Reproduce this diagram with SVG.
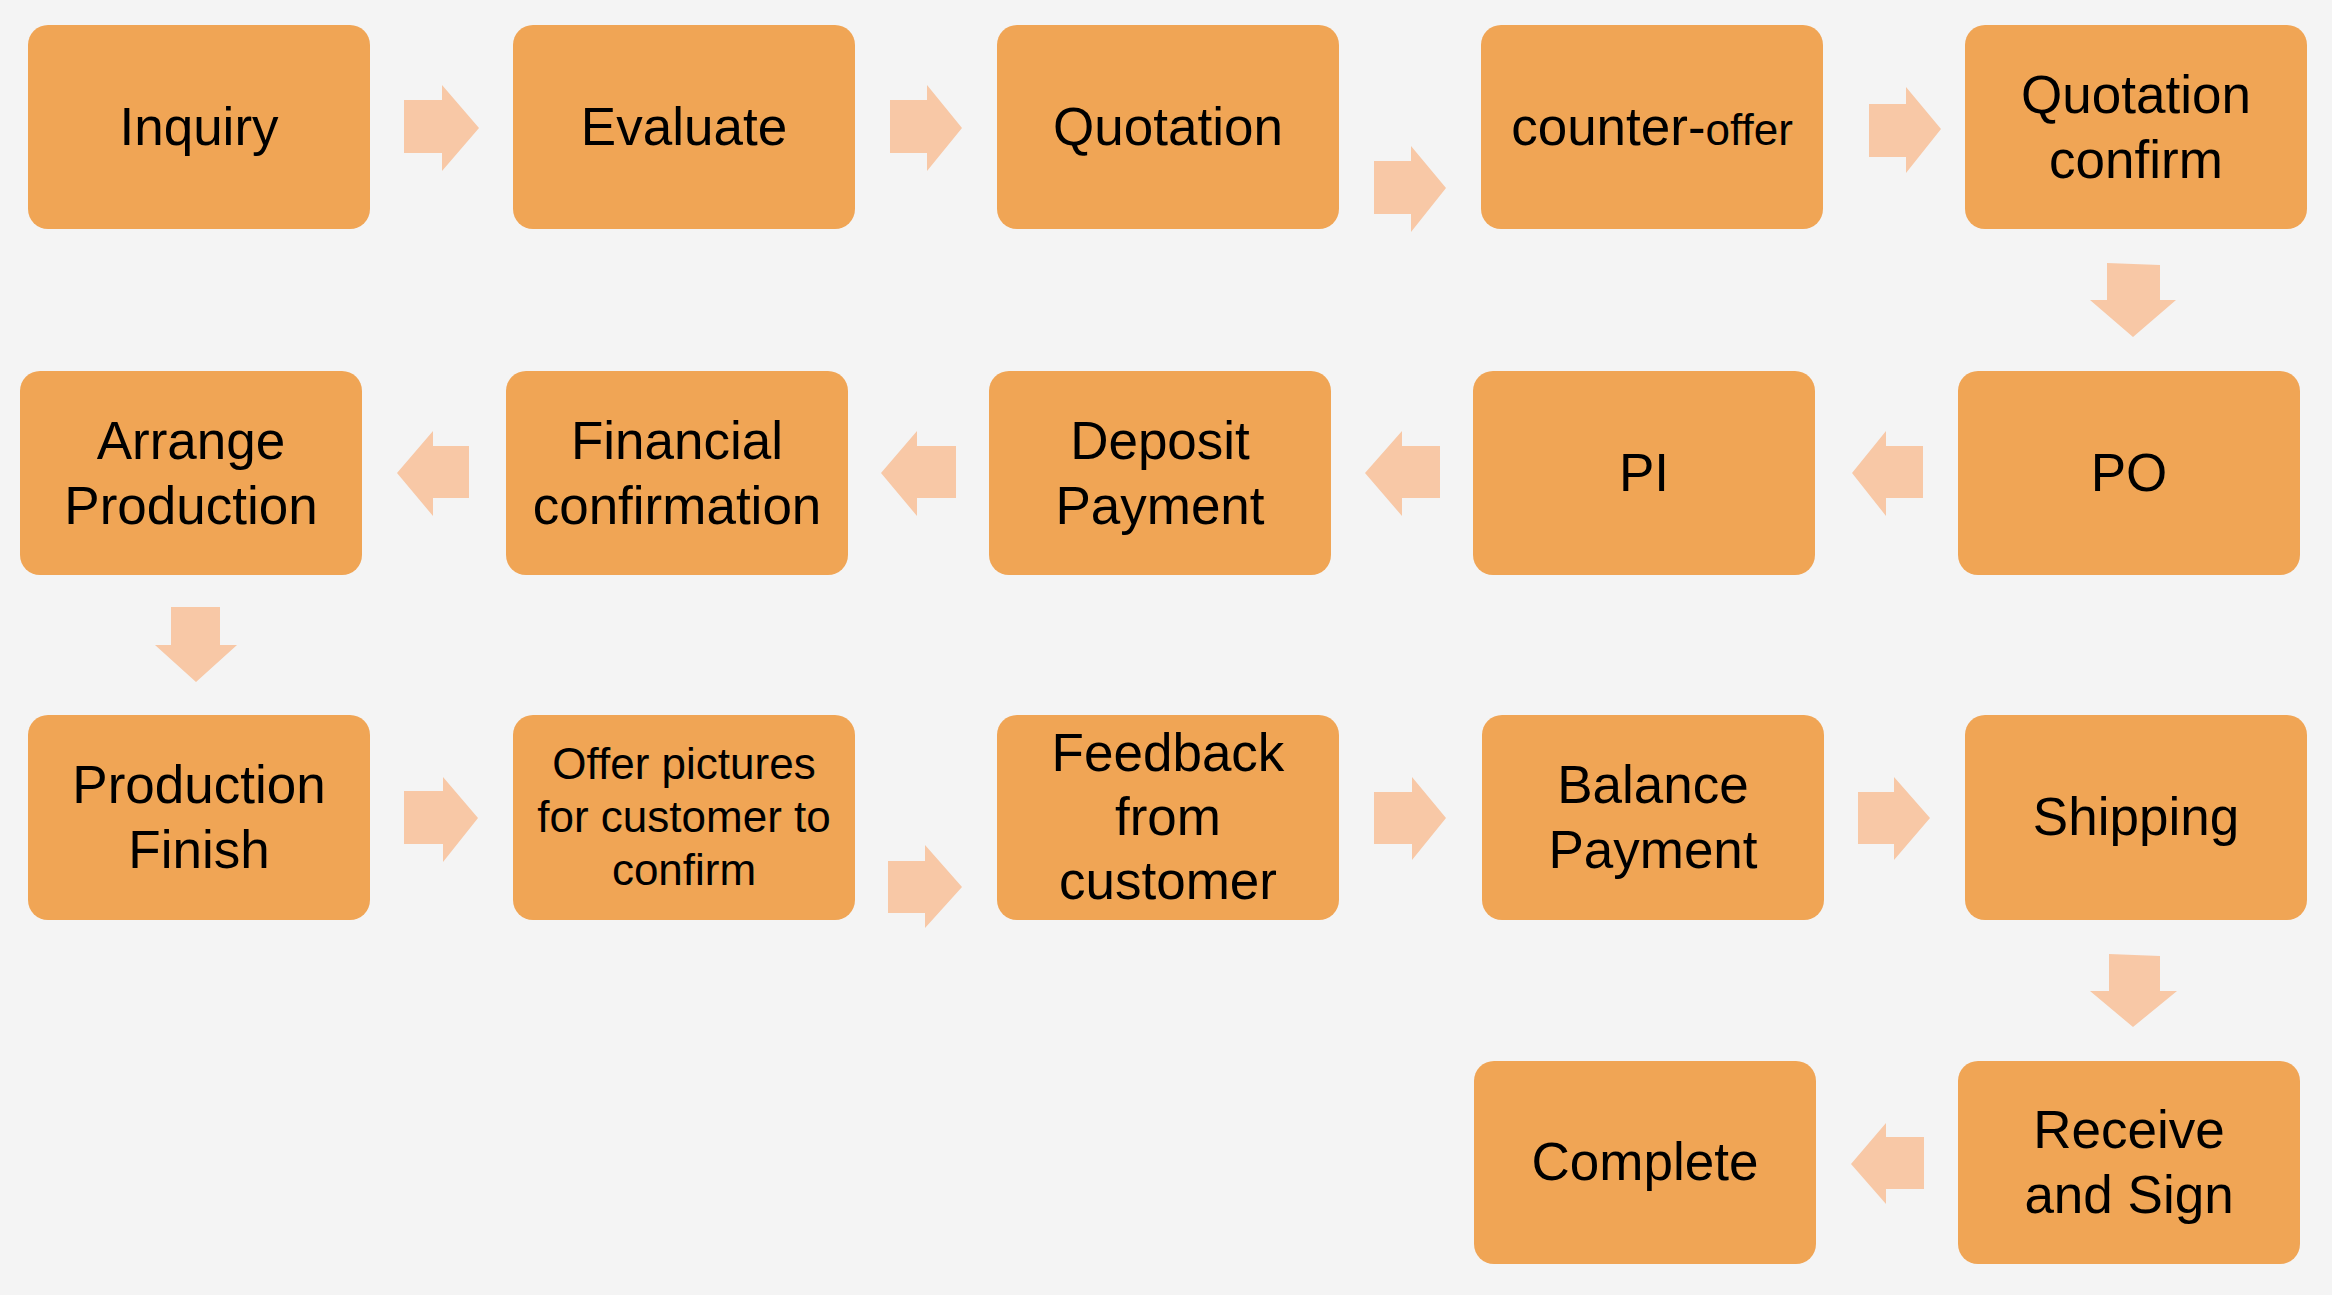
<svg xmlns="http://www.w3.org/2000/svg" width="2332" height="1295" viewBox="0 0 2332 1295">
<style>
.box{fill:#F0A555;}
.arr{fill:#F8C8A6;}
.t{font-family:"Liberation Sans",Arial,sans-serif;font-size:53px;fill:#000;text-anchor:middle;}
.s{font-size:44px;}
</style>
<rect width="2332" height="1295" fill="#F4F4F4"/>
<g id="connectors">
<polygon class="arr" points="404,100 442,100 442,85 479,128 442,171 442,153 404,153"/>
<polygon class="arr" points="890,100 927,100 927,85 962,128 927,171 927,153 890,153"/>
<polygon class="arr" points="1374,161 1411,161 1411,146 1446,188 1411,232 1411,214 1374,214"/>
<polygon class="arr" points="1869,104 1906,104 1906,87 1941,129 1906,173 1906,157 1869,157"/>
<polygon class="arr" points="2107,263 2160,265 2160,300 2176,300 2133,337 2090,300 2107,300"/>
<polygon class="arr" points="1923,446 1886,446 1886,431 1852,473 1886,516 1886,498 1923,498"/>
<polygon class="arr" points="1440,446 1402,446 1402,431 1365,473 1402,516 1402,498 1440,498"/>
<polygon class="arr" points="956,446 917,446 917,431 881,473 917,516 917,498 956,498"/>
<polygon class="arr" points="469,446 433,446 433,431 397,473 433,516 433,498 469,498"/>
<polygon class="arr" points="171,607 220,607 220,645 237,645 196,682 155,645 171,645"/>
<polygon class="arr" points="404,791 443,791 443,777 478,818 443,862 443,844 404,844"/>
<polygon class="arr" points="888,861 925,861 925,845 962,887 925,928 925,913 888,913"/>
<polygon class="arr" points="1374,792 1412,792 1412,777 1446,818 1412,860 1412,844 1374,844"/>
<polygon class="arr" points="1858,792 1894,792 1894,777 1930,818 1894,860 1894,844 1858,844"/>
<polygon class="arr" points="2109,954 2160,956 2160,991 2177,991 2133,1027 2090,991 2109,991"/>
<polygon class="arr" points="1924,1137 1886,1137 1886,1123 1851,1164 1886,1204 1886,1189 1924,1189"/>
</g>
<g id="inquiry"><rect class="box" x="28" y="25" width="342" height="204" rx="20"/><text class="t" x="199" y="145">Inquiry</text></g>
<g id="evaluate"><rect class="box" x="513" y="25" width="342" height="204" rx="20"/><text class="t" x="684" y="145">Evaluate</text></g>
<g id="quotation"><rect class="box" x="997" y="25" width="342" height="204" rx="20"/><text class="t" x="1168" y="145">Quotation</text></g>
<g id="counter-offer"><rect class="box" x="1481" y="25" width="342" height="204" rx="20"/><text class="t" x="1652" y="145">counter-<tspan class="s">offer</tspan></text></g>
<g id="quotation-confirm"><rect class="box" x="1965" y="25" width="342" height="204" rx="20"/><text class="t" x="2136" y="113">Quotation</text><text class="t" x="2136" y="178">confirm</text></g>
<g id="arrange-production"><rect class="box" x="20" y="371" width="342" height="204" rx="20"/><text class="t" x="191" y="459">Arrange</text><text class="t" x="191" y="524">Production</text></g>
<g id="financial-confirmation"><rect class="box" x="506" y="371" width="342" height="204" rx="20"/><text class="t" x="677" y="459">Financial</text><text class="t" x="677" y="524">confirmation</text></g>
<g id="deposit-payment"><rect class="box" x="989" y="371" width="342" height="204" rx="20"/><text class="t" x="1160" y="459">Deposit</text><text class="t" x="1160" y="524">Payment</text></g>
<g id="pi"><rect class="box" x="1473" y="371" width="342" height="204" rx="20"/><text class="t" x="1644" y="491">PI</text></g>
<g id="po"><rect class="box" x="1958" y="371" width="342" height="204" rx="20"/><text class="t" x="2129" y="491">PO</text></g>
<g id="production-finish"><rect class="box" x="28" y="715" width="342" height="205" rx="20"/><text class="t" x="199" y="803">Production</text><text class="t" x="199" y="868">Finish</text></g>
<g id="offer-pictures"><rect class="box" x="513" y="715" width="342" height="205" rx="20"/><text class="t s" x="684" y="779">Offer pictures</text><text class="t s" x="684" y="832">for customer to</text><text class="t s" x="684" y="885">confirm</text></g>
<g id="feedback"><rect class="box" x="997" y="715" width="342" height="205" rx="20"/><text class="t" x="1168" y="771">Feedback</text><text class="t" x="1168" y="835">from</text><text class="t" x="1168" y="899">customer</text></g>
<g id="balance-payment"><rect class="box" x="1482" y="715" width="342" height="205" rx="20"/><text class="t" x="1653" y="803">Balance</text><text class="t" x="1653" y="868">Payment</text></g>
<g id="shipping"><rect class="box" x="1965" y="715" width="342" height="205" rx="20"/><text class="t" x="2136" y="835">Shipping</text></g>
<g id="complete"><rect class="box" x="1474" y="1061" width="342" height="203" rx="20"/><text class="t" x="1645" y="1180">Complete</text></g>
<g id="receive-and-sign"><rect class="box" x="1958" y="1061" width="342" height="203" rx="20"/><text class="t" x="2129" y="1148">Receive</text><text class="t" x="2129" y="1213">and Sign</text></g>
</svg>
